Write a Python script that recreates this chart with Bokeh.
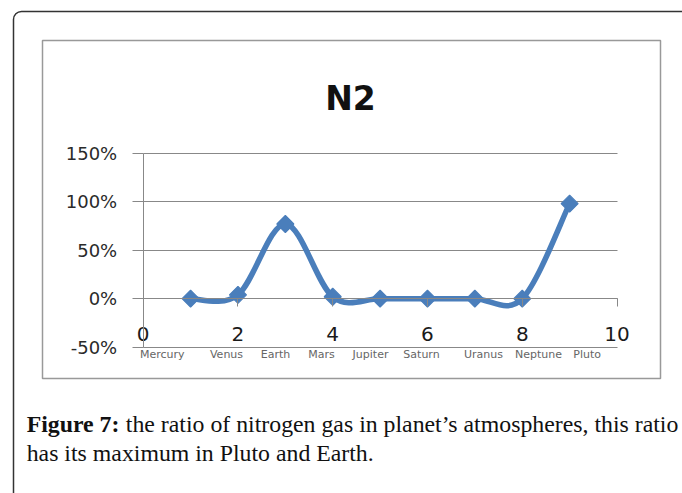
import numpy as np
from bokeh.plotting import figure
from bokeh.models import (Range1d, LinearAxis, FixedTicker, Grid, NumeralTickFormatter,
                          Label, BoxAnnotation)
from bokeh.embed import file_html
from bokeh.resources import INLINE

# ---------------- data ----------------
planets = ["Mercury", "Venus", "Earth", "Mars", "Jupiter", "Saturn", "Uranus", "Neptune", "Pluto"]
x_index = [1, 2, 3, 4, 5, 6, 7, 8, 9]
n2_ratio = [0.0, 0.04, 0.77, 0.02, 0.0, 0.0, 0.0, 0.0, 0.98]
x_ticks = [0, 2, 4, 6, 8, 10]
y_ticks = [-0.5, 0.0, 0.5, 1.0, 1.5]
title_text = "N2"
caption_bold = "Figure 7:"
caption_line1 = "the ratio of nitrogen gas in planet\u2019s atmospheres, this ratio"
caption_line2 = "has its maximum in Pluto and Earth."

# ---------------- layout / style ----------------
W, H = 682, 493
X0_PX, X10_PX = 142.7, 616.5        # px of x=0 and x=10
YTOP_PX, YBOT_PX = 152.7, 346.7     # px of 150% and -50%
BLUE = "#4A7EBB"
GRID = "#888888"
planet_label_px = [161.7, 226, 275, 321, 370, 421, 483, 538, 586.7]
CAP_SIZE = 23.8


def sx(px):
    return px


def sy(py):
    return H - py


kx = (X10_PX - X0_PX) / (x_ticks[-1] - x_ticks[0])
ky = (YBOT_PX - YTOP_PX) / (y_ticks[-1] - y_ticks[0])
x_start = x_ticks[0] - X0_PX / kx
x_end = x_ticks[-1] + (W - X10_PX) / kx
y_end = y_ticks[-1] + YTOP_PX / ky
y_start = y_ticks[0] - (H - YBOT_PX) / ky

p = figure(width=W, height=H, x_range=Range1d(x_start, x_end), y_range=Range1d(y_start, y_end),
           x_axis_location=None, y_axis_location=None, toolbar_location=None,
           output_backend="svg", min_border=0, outline_line_color=None, title=None)
p.xgrid.visible = False
p.ygrid.visible = False

# grid lines (horizontal), limited to plot area
grid = Grid(dimension=1, ticker=FixedTicker(ticks=y_ticks),
            bounds=(y_ticks[0], y_ticks[-1]), cross_bounds=(x_ticks[0], x_ticks[-1]),
            grid_line_color=GRID, grid_line_width=1)
p.add_layout(grid)

# y axis at x = 0
yaxis = LinearAxis(fixed_location=0, ticker=FixedTicker(ticks=y_ticks),
                   formatter=NumeralTickFormatter(format="0%"),
                   bounds=(y_ticks[0], y_ticks[-1]),
                   major_tick_out=11, major_tick_in=0, minor_tick_line_color=None,
                   axis_line_color=GRID, major_tick_line_color=GRID,
                   major_label_standoff=15, major_label_text_font="DejaVu Sans",
                   major_label_text_font_size="18px", major_label_text_color="#2a2a2a")
p.add_layout(yaxis, "left")

# x axis at y = 0
xaxis = LinearAxis(fixed_location=0, ticker=FixedTicker(ticks=x_ticks),
                   bounds=(x_ticks[0], x_ticks[-1]),
                   major_tick_out=8, major_tick_in=0, minor_tick_line_color=None,
                   axis_line_color=GRID, major_tick_line_color=GRID,
                   major_label_standoff=20, major_label_text_font="DejaVu Sans",
                   major_label_text_font_size="20px", major_label_text_color="#1a1a1a")
p.add_layout(xaxis, "below")

# smoothed line (Excel-style Catmull-Rom Bezier segments)
xs = np.array(x_index, dtype=float)
ys = np.array(n2_ratio, dtype=float)
n = len(xs)
xp = np.concatenate([[xs[0]], xs, [xs[-1]]])
yp = np.concatenate([[ys[0]], ys, [ys[-1]]])
x0 = xs[:-1]; y0 = ys[:-1]; x1 = xs[1:]; y1 = ys[1:]
cx0 = xs[:-1] + (xp[2:n + 1] - xp[0:n - 1]) / 6.0
cy0 = ys[:-1] + (yp[2:n + 1] - yp[0:n - 1]) / 6.0
cx1 = xs[1:] - (xp[3:n + 2] - xp[1:n]) / 6.0
cy1 = ys[1:] - (yp[3:n + 2] - yp[1:n]) / 6.0
p.bezier(x0=x0, y0=y0, x1=x1, y1=y1, cx0=cx0, cy0=cy0, cx1=cx1, cy1=cy1,
         line_color=BLUE, line_width=5.5, line_cap="round")

p.scatter(x_index, n2_ratio, marker="square", angle=np.pi / 4, size=12,
          fill_color=BLUE, line_color=BLUE, line_width=1.2)

# planet names under the axis
for name, px in zip(planets, planet_label_px):
    p.add_layout(Label(x=sx(px), y=sy(354), x_units="screen", y_units="screen", text=name,
                       text_align="center", text_baseline="middle", text_font="DejaVu Sans",
                       text_font_size="11px", text_color="#666666"))

# chart title
p.add_layout(Label(x=sx(350), y=sy(98.3), x_units="screen", y_units="screen", text=title_text,
                   text_align="center", text_baseline="alphabetic", text_font="DejaVu Sans",
                   text_font_style="bold", text_font_size="33px", text_color="#111111"))

# frames
p.add_layout(BoxAnnotation(left=sx(42), right=sx(660), top=sy(40), bottom=sy(378),
                           left_units="screen", right_units="screen", top_units="screen",
                           bottom_units="screen", fill_color=None, line_color="#999999",
                           line_alpha=1.0, line_width=1.5))
p.add_layout(BoxAnnotation(left=sx(13), right=sx(720), top=sy(11), bottom=sy(560),
                           left_units="screen", right_units="screen", top_units="screen",
                           bottom_units="screen", fill_color=None, line_color="#333333",
                           line_alpha=1.0, line_width=1.5, border_radius=8))

# caption
p.add_layout(Label(x=sx(26.2), y=sy(423.5), x_units="screen", y_units="screen", text=caption_bold,
                   text_align="left", text_baseline="alphabetic", text_font="Liberation Serif",
                   text_font_style="bold", text_font_size=f"{CAP_SIZE}px", text_color="#111111"))
p.add_layout(Label(x=sx(26.2) + 4.166 * CAP_SIZE, y=sy(423.5), x_units="screen", y_units="screen",
                   text=caption_line1,
                   text_align="left", text_baseline="alphabetic", text_font="Liberation Serif",
                   text_font_size=f"{CAP_SIZE}px", text_color="#111111"))
p.add_layout(Label(x=sx(26.2), y=sy(452), x_units="screen", y_units="screen", text=caption_line2,
                   text_align="left", text_baseline="alphabetic", text_font="Liberation Serif",
                   text_font_size=f"{CAP_SIZE}px", text_color="#111111"))

open("out.html", "w").write(file_html(p, INLINE))
